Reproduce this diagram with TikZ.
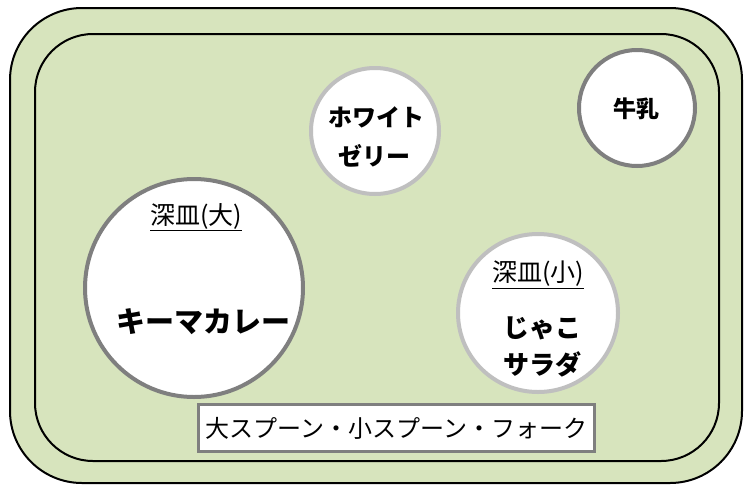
\documentclass[tikz,border=0pt]{standalone}
\usepackage{fontspec}
\newfontfamily\jp{Noto Sans CJK JP}
\usetikzlibrary{shapes.geometric}
\definecolor{trayfill}{HTML}{D7E4BD}
\definecolor{darkrim}{HTML}{7F7F7F}
\definecolor{lightrim}{HTML}{BFBFBF}
\tikzset{
  dish/.style={ellipse, draw, fill=white, line width=4pt, inner sep=0pt},
  darkdish/.style={dish, draw=darkrim},
  lightdish/.style={dish, draw=lightrim},
  popt/.style={font=\jp\bfseries\fontsize{#1}{#1}\selectfont, inner sep=0pt, align=center},
  platet/.style={font=\jp\fontsize{25}{25}\selectfont, inner sep=0pt},
}
\begin{document}
\begin{tikzpicture}[x=1pt,y=-1pt]
\useasboundingbox (0,0) rectangle (744,485);
\draw[fill=trayfill, line width=2pt, rounded corners=72pt] (10,8) rectangle (742,483);
\draw[line width=2pt, rounded corners=58pt] (35,34) rectangle (719,461);
% dishes
\node[lightdish, minimum width=128pt, minimum height=126pt] (jelly) at (375,131) {};
\node[darkdish, minimum width=116pt, minimum height=116pt] (milk) at (637,108) {};
\node[darkdish, minimum width=218pt, minimum height=218pt] (curry) at (194,288) {};
\node[lightdish, minimum width=160pt, minimum height=158pt] (salad) at (538,313) {};
% texts
\node[popt=24, text height=23pt, text depth=0pt] (jellyt1) at (376,115) {ホワイト};
\node[popt=24, text height=23pt, text depth=0pt] (jellyt2) at (374,154) {ゼリー};
\node[popt=23] (milkt) at (636,109) {牛乳};
\node[platet] (curryl) at (196,217) {\underline{深皿(大)}};
\node[popt=29] (curryt) at (203,322) {キーマカレー};
\node[platet] (saladl) at (538,275) {\underline{深皿(小)}};
\node[popt=26] (saladt1) at (542,328) {じゃこ};
\node[popt=26] (saladt2) at (542,364) {サラダ};
% cutlery
\node[draw=darkrim, fill=white, line width=3pt, minimum width=396pt, minimum height=47pt, inner sep=0pt,
      font=\jp\fontsize{24}{24}\selectfont] (cutlery) at (396.5,428) {大スプーン・小スプーン・フォーク};
\end{tikzpicture}
\end{document}
